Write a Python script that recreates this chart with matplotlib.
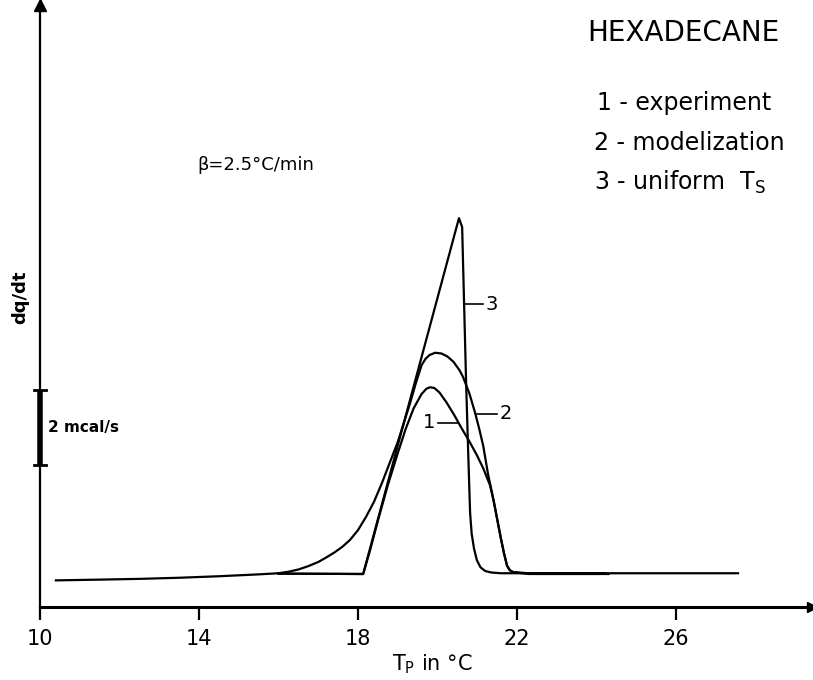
import matplotlib
matplotlib.use("Agg")
import matplotlib.pyplot as plt

# ---------------- data (T_P in degC, dq/dt in mcal/s above axis) ----------------
curve1_x = [16.0, 18.13, 18.3, 18.5, 18.75, 19.0, 19.2, 19.4, 19.6, 19.72, 19.81,
            19.92, 20.05, 20.23, 20.42, 20.61, 20.8, 20.99, 21.15, 21.32, 21.42,
            21.5, 21.6, 21.68, 21.75, 21.82, 21.9, 22.3, 24.2]
curve1_y = [0.89, 0.88, 1.5, 2.3, 3.25, 4.1, 4.75, 5.3, 5.68, 5.82, 5.86,
            5.84, 5.72, 5.45, 5.12, 4.76, 4.42, 4.05, 3.7, 3.25, 2.8,
            2.35, 1.8, 1.4, 1.1, 0.98, 0.93, 0.9, 0.9]

curve2_x = [10.4, 11.5, 12.5, 13.5, 14.5, 15.5, 16.0, 16.25, 16.5, 16.75, 17.0,
            17.2, 17.4, 17.6, 17.8, 18.0, 18.2, 18.4, 18.6, 18.8, 19.0, 19.15,
            19.3, 19.45, 19.6, 19.7, 19.8, 19.94, 20.1, 20.25, 20.4, 20.55, 20.64,
            20.8, 20.94, 21.05, 21.15, 21.27, 21.38, 21.5, 21.6, 21.68, 21.75,
            21.82, 21.9, 22.3, 24.3]
curve2_y = [0.71, 0.73, 0.75, 0.78, 0.82, 0.87, 0.9, 0.94, 1.0, 1.09, 1.2,
            1.32, 1.45, 1.6, 1.79, 2.05, 2.4, 2.8, 3.3, 3.85, 4.4, 4.9,
            5.4, 5.95, 6.45, 6.62, 6.72, 6.78, 6.76, 6.68, 6.54, 6.32, 6.14,
            5.7, 5.2, 4.75, 4.3, 3.55, 3.0, 2.35, 1.8, 1.4, 1.1,
            0.98, 0.93, 0.88, 0.88]

curve3_x = [16.0, 18.13, 20.54, 20.62, 20.72, 20.77, 20.82, 20.86, 20.92, 20.99,
            21.08, 21.2, 21.35, 21.6, 27.56]
curve3_y = [0.89, 0.88, 10.37, 10.13, 5.97, 4.2, 2.51, 1.95, 1.55, 1.25,
            1.06, 0.96, 0.92, 0.9, 0.9]

xticks = [10, 14, 18, 22, 26]
xtick_labels = ["10", "14", "18", "22", "26"]

scale_bar_bottom = 3.79
scale_bar_height = 2.0  # mcal/s

# ---------------- figure ----------------
W, H = 813, 680
fig = plt.figure(figsize=(W / 100, H / 100), dpi=100)
left_px, right_px, bottom_px, top_px = 40, 812, 607, 5
ax = fig.add_axes([left_px / W, 1 - bottom_px / H,
                   (right_px - left_px) / W, (bottom_px - top_px) / H])
ax.set_xlim(10, 10 + (right_px - left_px) / 39.75)
ax.set_ylim(0, (bottom_px - top_px) / 37.5)

for s in ("top", "right"):
    ax.spines[s].set_visible(False)
ax.spines["bottom"].set_linewidth(2.2)
ax.spines["left"].set_linewidth(1.6)

ax.set_yticks([])
ax.set_xticks(xticks)
ax.set_xticklabels(xtick_labels, fontsize=15)
ax.tick_params(axis="x", direction="out", length=9, width=1.6, pad=7)

# arrow heads
ax.plot(1, 0, ">k", transform=ax.transAxes, clip_on=False, markersize=7)
ax.plot(0, 1, "^k", transform=ax.transAxes, clip_on=False, markersize=8)

lw = 1.6
ax.plot(curve3_x, curve3_y, color="black", lw=lw, solid_joinstyle="round")
ax.plot(curve2_x, curve2_y, color="black", lw=lw, solid_joinstyle="round")
ax.plot(curve1_x, curve1_y, color="black", lw=lw, solid_joinstyle="round")

# curve labels with leaders
ax.plot([20.69, 21.14], [8.08, 8.08], color="black", lw=1.2)
ax.text(21.22, 8.08, "3", fontsize=14, ha="left", va="center")
ax.plot([21.0, 21.5], [5.15, 5.15], color="black", lw=1.2)
ax.text(21.57, 5.15, "2", fontsize=14, ha="left", va="center")
ax.plot([20.01, 20.52], [4.91, 4.91], color="black", lw=1.2)
ax.text(19.95, 4.91, "1", fontsize=14, ha="right", va="center")

# scale bar
ax.plot([10, 10], [scale_bar_bottom, scale_bar_bottom + scale_bar_height],
        color="black", lw=4, clip_on=False, solid_capstyle="butt")
for yy in (scale_bar_bottom, scale_bar_bottom + scale_bar_height):
    ax.plot([9.85, 10.15], [yy, yy], color="black", lw=2, clip_on=False)
ax.text(10.2, scale_bar_bottom + scale_bar_height / 2, "2 mcal/s",
        fontsize=11, fontweight="bold", ha="left", va="center")

# texts
def px(x, y):
    return x / W, 1 - y / H

fig.text(*px(20, 297), "dq/dt", fontsize=13, fontweight="bold",
         rotation=90, ha="center", va="center")
fig.text(*px(432, 664), r"T$_\mathrm{P}$ in °C", fontsize=15, ha="center", va="center")
fig.text(*px(197, 165), "β=2.5°C/min", fontsize=13, ha="left", va="center")
fig.text(*px(587, 33), "HEXADECANE", fontsize=20, ha="left", va="center")
fig.text(*px(597, 103), "1 - experiment", fontsize=17, ha="left", va="center")
fig.text(*px(594, 143), "2 - modelization", fontsize=17, ha="left", va="center")
fig.text(*px(594, 182), r"3 - uniform  T$_\mathrm{S}$", fontsize=17, ha="left", va="center")

fig.savefig("out.png", dpi=100)
